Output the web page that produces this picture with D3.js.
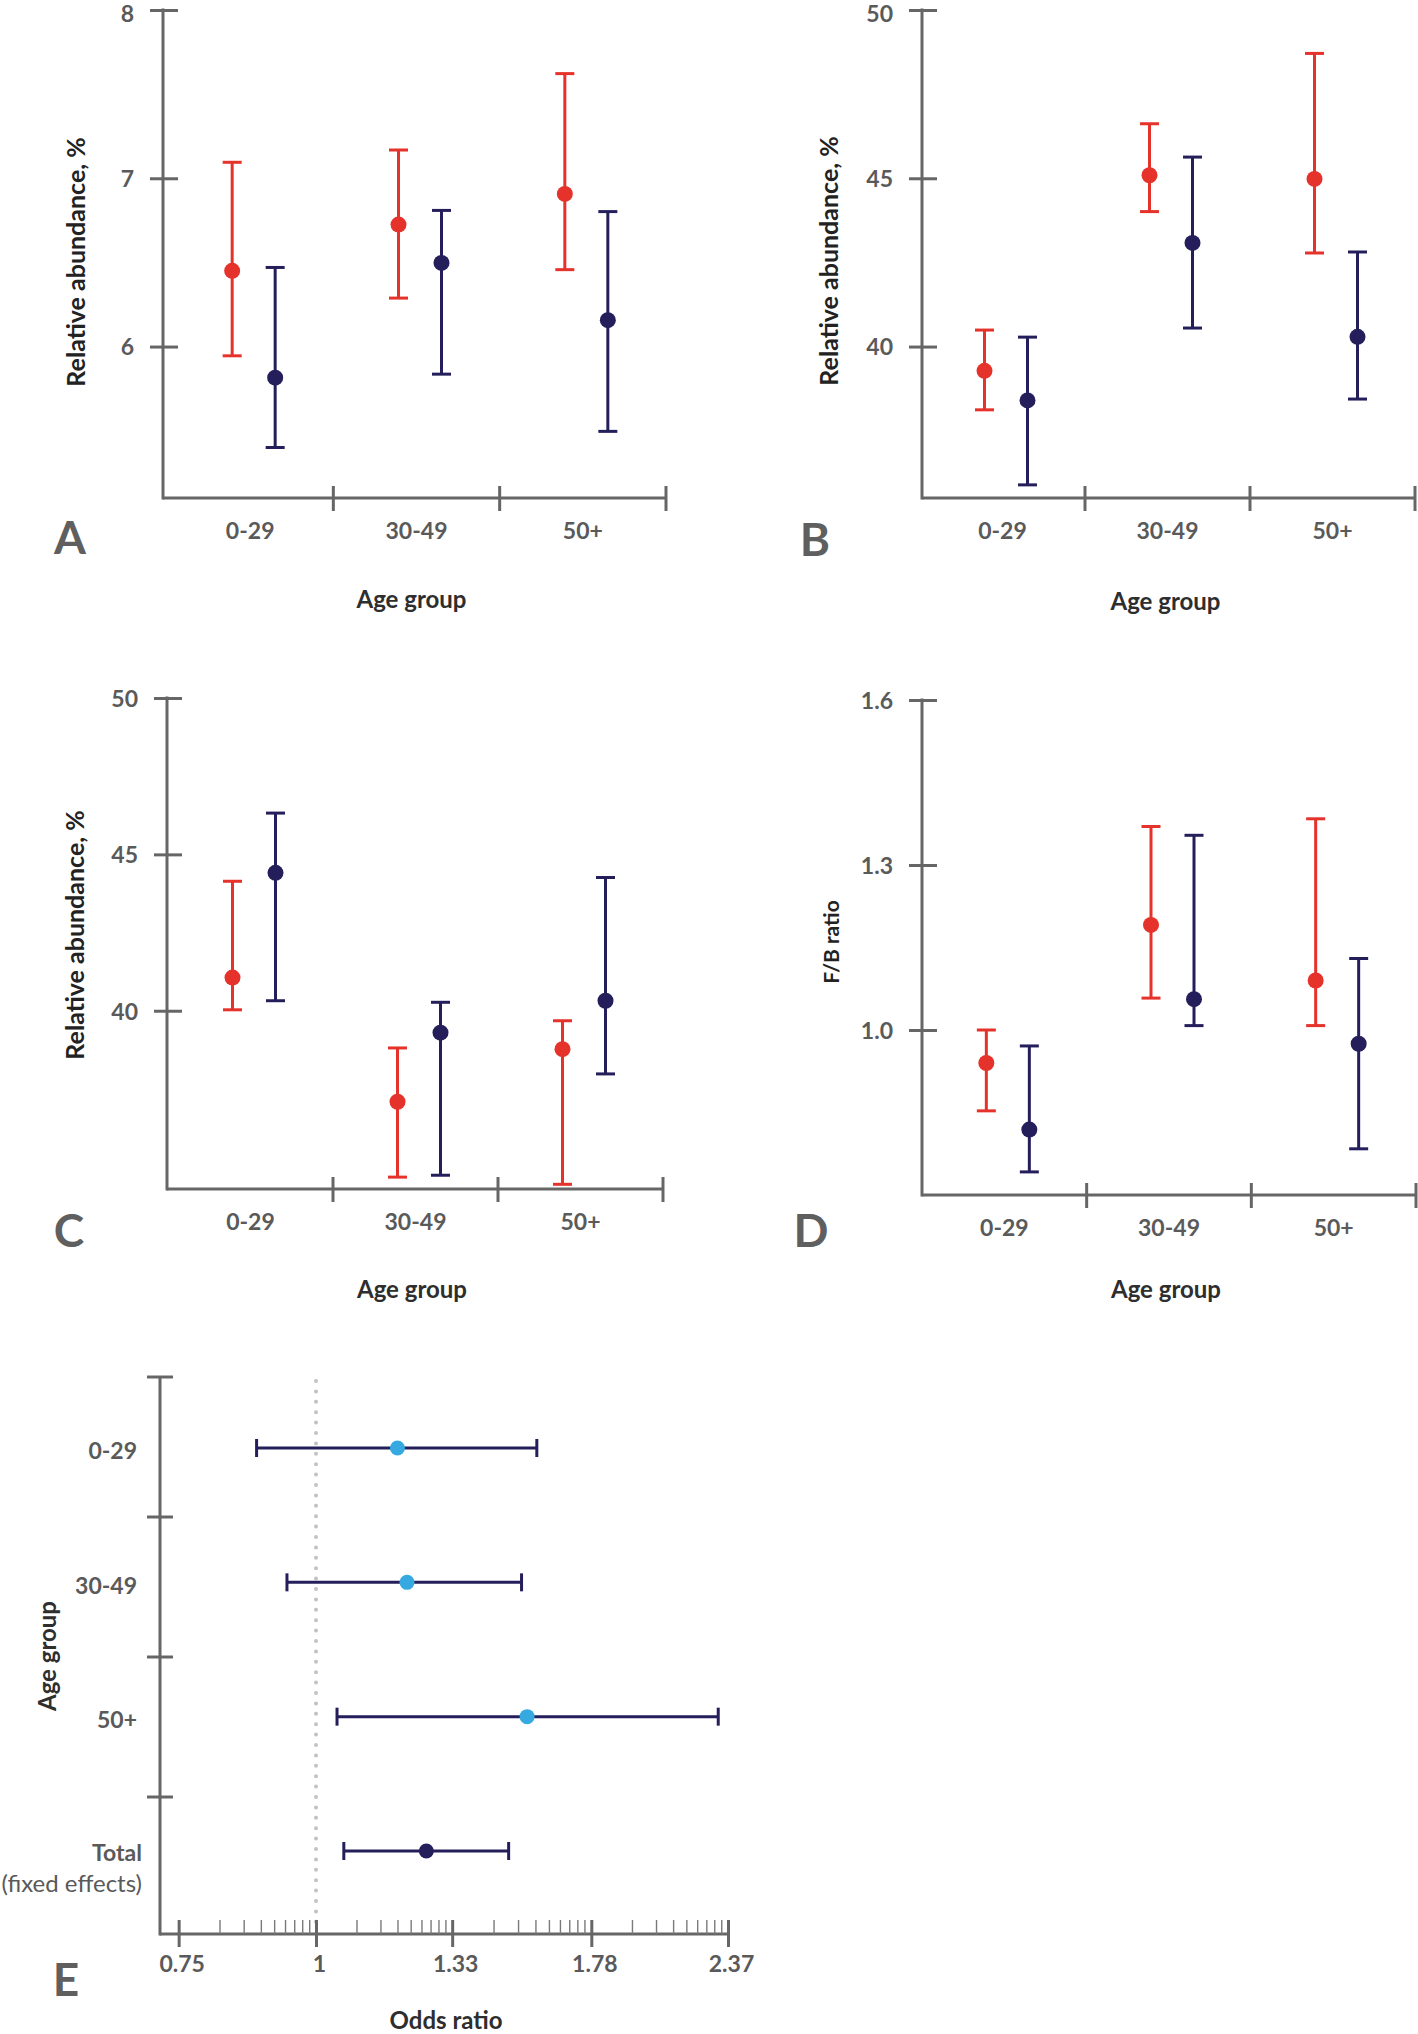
<!DOCTYPE html>
<html><head><meta charset="utf-8">
<script src="https://cdn.jsdelivr.net/npm/d3@7"></script>
<style>
html,body{margin:0;padding:0;background:#fff;}
svg{display:block;font-family:Lato,"Open Sans",sans-serif;}
</style></head><body>
<svg id="chart" width="1418" height="2034"></svg>
<script>
// ---------------- DATA ----------------
const ageGroups = ["0-29", "30-49", "50+"];

// Panel A
const aRedMean  = [6.45, 6.725, 6.907];
const aRedLow   = [5.945, 6.288, 6.457];
const aRedHigh  = [7.095, 7.168, 7.622];
const aBlueMean = [5.815, 6.497, 6.157];
const aBlueLow  = [5.40, 5.836, 5.496];
const aBlueHigh = [6.47, 6.809, 6.802];
const aTicks = [6, 7, 8];

// Panel B
const bRedMean  = [39.28, 45.09, 44.98];
const bRedLow   = [38.12, 44.01, 42.78];
const bRedHigh  = [40.49, 46.62, 48.71];
const bBlueMean = [38.40, 43.08, 40.29];
const bBlueLow  = [35.89, 40.55, 38.44];
const bBlueHigh = [40.28, 45.63, 42.81];
const bTicks = [40, 45, 50];

// Panel C
const cRedMean  = [41.06, 37.09, 38.77];
const cRedLow   = [40.03, 34.68, 34.45];
const cRedHigh  = [44.14, 38.81, 39.68];
const cBlueMean = [44.41, 39.30, 40.32];
const cBlueLow  = [40.32, 34.74, 37.98];
const cBlueHigh = [46.32, 40.27, 44.26];
const cTicks = [40, 45, 50];

// Panel D
const dRedMean  = [0.940, 1.191, 1.090];
const dRedLow   = [0.853, 1.058, 1.008];
const dRedHigh  = [1.000, 1.370, 1.384];
const dBlueMean = [0.819, 1.056, 0.975];
const dBlueLow  = [0.742, 1.008, 0.784];
const dBlueHigh = [0.971, 1.354, 1.130];
const dTicks = [1.0, 1.3, 1.6];

// Panel E (odds ratios)
const eGroups = ["0-29", "30-49", "50+", "Total"];
const eOR   = [1.186, 1.210, 1.556, 1.260];
const eLow  = [0.883, 0.941, 1.045, 1.060];
const eHigh = [1.588, 1.538, 2.322, 1.497];
const eTicks = [0.75, 1, 1.33, 1.78, 2.37];
const eTickLabels = ["0.75", "1", "1.33", "1.78", "2.37"];

// ---------------- STYLE ----------------
const RED = "#e5322b", NAVY = "#241f5b", LIGHTBLUE = "#36a9e1";
const AXIS = "#666666", TICKTXT = "#5a5a5a", TITLE = "#2e2e2e", LETTER = "#5f5f5f";

const svg = d3.select("#chart");
svg.append("rect").attr("width", 1418).attr("height", 2034).attr("fill", "#fff");

const panels = [
  {key:"A", x0:163, yTop:10, yBottom:498, xEnd:666, bandStart:167, domain:[5.1, 8], ticks:aTicks, fmt:d3.format("d"),
   yLabel:"Relative abundance, %", yLabelSize:25, yLabelX:76, yLabelY:262, letterX:70, letterY:537, xLabelOff:101,
   red:[aRedMean,aRedLow,aRedHigh], blue:[aBlueMean,aBlueLow,aBlueHigh]},
  {key:"B", x0:922, yTop:10, yBottom:498, xEnd:1415, bandStart:920, domain:[35.5, 50], ticks:bTicks, fmt:d3.format("d"),
   yLabel:"Relative abundance, %", yLabelSize:25, yLabelX:829, yLabelY:261, letterX:815, letterY:539, xLabelOff:103,
   red:[bRedMean,bRedLow,bRedHigh], blue:[bBlueMean,bBlueLow,bBlueHigh]},
  {key:"C", x0:167, yTop:698, yBottom:1189, xEnd:663, bandStart:168, domain:[34.3, 50], ticks:cTicks, fmt:d3.format("d"),
   yLabel:"Relative abundance, %", yLabelSize:25, yLabelX:75, yLabelY:935, letterX:69, letterY:1230, xLabelOff:100,
   red:[cRedMean,cRedLow,cRedHigh], blue:[cBlueMean,cBlueLow,cBlueHigh]},
  {key:"D", x0:922, yTop:700, yBottom:1195, xEnd:1416, bandStart:922, domain:[0.7, 1.6], ticks:dTicks, fmt:d3.format(".1f"),
   yLabel:"F/B ratio", yLabelSize:21, yLabelX:831, yLabelY:942, letterX:811, letterY:1230, xLabelOff:94,
   red:[dRedMean,dRedLow,dRedHigh], blue:[dBlueMean,dBlueLow,dBlueHigh]}
];

function drawPanel(p) {
  const g = svg.append("g");
  const y = d3.scaleLinear().domain(p.domain).range([p.yBottom, p.yTop]);
  const x = d3.scaleBand().domain(ageGroups).range([p.bandStart, p.xEnd]);

  // y axis
  const ga = g.append("g").attr("transform", `translate(${p.x0},0)`)
    .call(d3.axisLeft(y).tickValues(p.ticks).tickFormat(p.fmt).tickSizeOuter(0).tickSizeInner(13).tickPadding(16));
  ga.attr("font-family", null).attr("font-size", null);
  ga.select(".domain").remove();
  ga.selectAll(".tick line").attr("x1", 15).attr("x2", -13).attr("stroke", AXIS).attr("stroke-width", 3);
  ga.selectAll(".tick text").attr("font-size", 23).attr("font-weight", 700).attr("fill", TICKTXT)
    .attr("dy", d => y(d) < 20 ? "0.5em" : "0.36em");

  g.append("line").attr("x1", p.x0).attr("x2", p.x0).attr("y1", y(p.domain[1]) - 1.5).attr("y2", p.yBottom + 1.5)
    .attr("stroke", AXIS).attr("stroke-width", 3);
  g.append("line").attr("x1", p.x0).attr("x2", p.xEnd).attr("y1", p.yBottom).attr("y2", p.yBottom)
    .attr("stroke", AXIS).attr("stroke-width", 3);

  // x boundary ticks
  g.selectAll(".xb").data(ageGroups).enter().append("line")
    .attr("x1", d => x(d) + x.bandwidth()).attr("x2", d => x(d) + x.bandwidth())
    .attr("y1", p.yBottom - 12).attr("y2", p.yBottom + 13)
    .attr("stroke", AXIS).attr("stroke-width", 3);

  // x labels
  const gx = g.append("g").attr("transform", `translate(0,${p.yBottom})`)
    .call(d3.axisBottom(x).tickSize(0).tickPadding(0));
  gx.attr("font-family", null).attr("font-size", null);
  gx.select(".domain").remove();
  gx.selectAll(".tick text").attr("y", 33).attr("dy", "0.36em")
    .attr("font-size", 23).attr("font-weight", 700).attr("fill", TICKTXT);

  // series
  const series = [
    {vals:p.red, color:RED, off:-18},
    {vals:p.blue, color:NAVY, off:25}
  ];
  series.forEach(s => {
    const rows = ageGroups.map((c, i) => ({c, m:s.vals[0][i], lo:s.vals[1][i], hi:s.vals[2][i]}));
    const cx = d => x(d.c) + x.bandwidth() / 2 + s.off;
    const sg = g.append("g");
    sg.selectAll(".v").data(rows).enter().append("line")
      .attr("x1", cx).attr("x2", cx).attr("y1", d => y(d.lo)).attr("y2", d => y(d.hi))
      .attr("stroke", s.color).attr("stroke-width", 3);
    ["lo", "hi"].forEach(k => {
      sg.selectAll(".c" + k).data(rows).enter().append("line")
        .attr("x1", d => cx(d) - 9.5).attr("x2", d => cx(d) + 9.5)
        .attr("y1", d => y(d[k])).attr("y2", d => y(d[k]))
        .attr("stroke", s.color).attr("stroke-width", 3);
    });
    sg.selectAll("circle").data(rows).enter().append("circle")
      .attr("cx", cx).attr("cy", d => y(d.m)).attr("r", 8).attr("fill", s.color);
  });

  // labels
  g.append("text").attr("transform", `translate(${p.yLabelX},${p.yLabelY}) rotate(-90)`)
    .attr("text-anchor", "middle").attr("dy", "0.36em")
    .attr("font-size", p.yLabelSize).attr("font-weight", 700).attr("fill", "#222").text(p.yLabel);
  g.append("text").attr("x", (p.x0 + p.xEnd) / 2 - 3).attr("y", p.yBottom + p.xLabelOff)
    .attr("text-anchor", "middle").attr("dy", "0.36em")
    .attr("font-size", 24).attr("font-weight", 700).attr("fill", TITLE).text("Age group");
  g.append("text").attr("x", p.letterX).attr("y", p.letterY).attr("text-anchor", "middle").attr("dy", "0.36em")
    .attr("font-size", 46).attr("font-weight", 700).attr("fill", LETTER).text(p.key);
}
panels.forEach(drawPanel);

// ---------------- PANEL E ----------------
(function () {
  const x0 = 160, yTop = 1377, yAxis = 1934;
  const g = svg.append("g");
  const xs = d3.scaleLog().domain([1, 2.37]).range([316, 728]);
  const rowY = d3.scalePoint().domain(eGroups).range([1448, 1851]);
  const rowBand = d3.scaleBand().domain(eGroups).range([yTop, 1937]);

  // dotted reference line at OR = 1
  g.append("line").attr("x1", xs(1)).attr("x2", xs(1)).attr("y1", 1381).attr("y2", yAxis - 4)
    .attr("stroke", "#c2c2c2").attr("stroke-width", 4).attr("stroke-linecap", "round")
    .attr("stroke-dasharray", "0,10.4");

  // axes lines
  g.append("line").attr("x1", x0).attr("x2", x0).attr("y1", yTop).attr("y2", yAxis + 1.5)
    .attr("stroke", AXIS).attr("stroke-width", 3);
  g.append("line").attr("x1", x0).attr("x2", xs(eTicks[eTicks.length - 1])).attr("y1", yAxis).attr("y2", yAxis)
    .attr("stroke", AXIS).attr("stroke-width", 3);

  // row boundary ticks
  g.selectAll(".rb").data(eGroups).enter().append("line")
    .attr("x1", x0 - 13).attr("x2", x0 + 13).attr("y1", d => rowBand(d)).attr("y2", d => rowBand(d))
    .attr("stroke", AXIS).attr("stroke-width", 3);

  // minor ticks (log-style subdivisions within each major interval)
  const minor = [];
  for (let i = 0; i < eTicks.length - 1; i++) {
    const a = eTicks[i], b = eTicks[i + 1];
    for (let m = 2; m <= 9; m++) minor.push(a * Math.pow(b / a, Math.log10(m)));
  }
  g.selectAll(".mn").data(minor).enter().append("line")
    .attr("x1", d => xs(d)).attr("x2", d => xs(d)).attr("y1", yAxis - 14).attr("y2", yAxis)
    .attr("stroke", "#7a7a7a").attr("stroke-width", 1.4);

  // major ticks + labels via axis
  const ga = g.append("g").attr("transform", `translate(0,${yAxis})`)
    .call(d3.axisBottom(xs).tickValues(eTicks).tickFormat((d, i) => eTickLabels[i]).tickSizeOuter(0).tickSizeInner(13).tickPadding(0));
  ga.attr("font-family", null).attr("font-size", null);
  ga.select(".domain").remove();
  ga.selectAll(".tick line").attr("y1", -14).attr("y2", 13).attr("stroke", AXIS).attr("stroke-width", 3);
  ga.selectAll(".tick text").attr("y", 30).attr("dy", "0.36em").attr("dx", 3)
    .attr("font-size", 23).attr("font-weight", 700).attr("fill", TICKTXT);

  // error bars
  const rows = eGroups.map((c, i) => ({c, m:eOR[i], lo:eLow[i], hi:eHigh[i]}));
  g.selectAll(".h").data(rows).enter().append("line")
    .attr("x1", d => xs(d.lo)).attr("x2", d => xs(d.hi)).attr("y1", d => rowY(d.c)).attr("y2", d => rowY(d.c))
    .attr("stroke", NAVY).attr("stroke-width", 3);
  ["lo", "hi"].forEach(k => {
    g.selectAll(".e" + k).data(rows).enter().append("line")
      .attr("x1", d => xs(d[k])).attr("x2", d => xs(d[k]))
      .attr("y1", d => rowY(d.c) - 9).attr("y2", d => rowY(d.c) + 9)
      .attr("stroke", NAVY).attr("stroke-width", 3);
  });
  g.selectAll("circle").data(rows).enter().append("circle")
    .attr("cx", d => xs(d.m)).attr("cy", d => rowY(d.c)).attr("r", 7.5)
    .attr("fill", d => d.c === "Total" ? NAVY : LIGHTBLUE);

  // row labels
  g.selectAll(".rl").data(eGroups.slice(0, 3)).enter().append("text")
    .attr("x", 137).attr("y", d => rowY(d) + 3).attr("dy", "0.36em").attr("text-anchor", "end")
    .attr("font-size", 23).attr("font-weight", 700).attr("fill", TICKTXT).text(d => d);
  g.append("text").attr("x", 142).attr("y", rowY("Total") + 2).attr("dy", "0.36em").attr("text-anchor", "end")
    .attr("font-size", 23).attr("font-weight", 700).attr("fill", TICKTXT).text("Total");
  g.append("text").attr("x", 142).attr("y", rowY("Total") + 32).attr("dy", "0.36em").attr("text-anchor", "end")
    .attr("font-size", 24).attr("font-weight", 400).attr("fill", TICKTXT).text("(fixed effects)");

  // titles
  g.append("text").attr("transform", "translate(47,1656) rotate(-90)").attr("text-anchor", "middle").attr("dy", "0.36em")
    .attr("font-size", 24).attr("font-weight", 700).attr("fill", TITLE).text("Age group");
  g.append("text").attr("x", 446).attr("y", 2020).attr("text-anchor", "middle").attr("dy", "0.36em")
    .attr("font-size", 24).attr("font-weight", 700).attr("fill", TITLE).text("Odds ratio");
  g.append("text").attr("x", 66).attr("y", 1979).attr("text-anchor", "middle").attr("dy", "0.36em")
    .attr("font-size", 46).attr("font-weight", 700).attr("fill", LETTER).text("E");
})();
</script>
</body></html>
